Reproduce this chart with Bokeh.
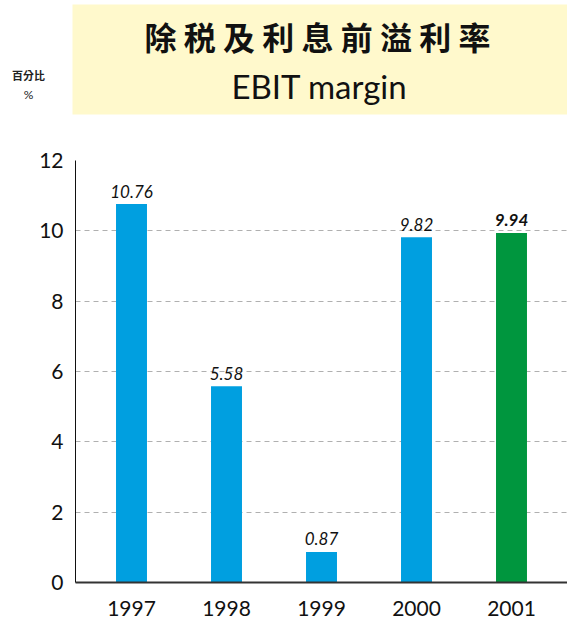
from bokeh.plotting import figure
from bokeh.models import ColumnDataSource, FactorRange, Range1d, FixedTicker
from bokeh.core.properties import value
from bokeh.embed import file_html
from bokeh.resources import INLINE

# ---- data ----
years = ["1997", "1998", "1999", "2000", "2001"]
margins = [10.76, 5.58, 0.87, 9.82, 9.94]
value_labels = ["10.76", "5.58", "0.87", "9.82", "9.94"]
bar_colors = ["#009FE0", "#009FE0", "#009FE0", "#009FE0", "#00963E"]
label_styles = ["italic", "italic", "italic", "italic", "bold italic"]
y_ticks = [0, 2, 4, 6, 8, 10, 12]
title_zh = "除税及利息前溢利率"
title_en = "EBIT margin"
unit_zh = "百分比"
unit_sym = "%"

W = 567
HDR_H = 140
CH_H = 482

# ---- header ----
hdr = figure(width=W, height=HDR_H, x_range=Range1d(0, W), y_range=Range1d(HDR_H, 0),
             output_backend="svg", toolbar_location=None, min_border=0,
             min_border_left=0, min_border_right=0, min_border_top=0, min_border_bottom=0,
             x_axis_location=None, y_axis_location=None)
hdr.grid.visible = False
hdr.outline_line_color = None
hdr.quad(left=[72], right=[W], top=[4], bottom=[114], fill_color="#FFF9CC", line_color=None)
hdr.text(x=[317], y=[35], text=[" ".join(title_zh)], text_align="center", text_baseline="middle",
         text_font=value("Noto Sans CJK TC"), text_font_size="32px", text_font_style="bold",
         text_color="#111111")
hdr.text(x=[319], y=[85], text=[title_en], text_align="center", text_baseline="alphabetic",
         text_font=value("Lato"), text_font_size="33px", text_color="#111111")
hdr.text(x=[28], y=[74], text=[unit_zh], text_align="center", text_baseline="middle",
         text_font=value("Noto Sans CJK TC"), text_font_size="11px", text_font_style="bold",
         text_color="#222222")
hdr.text(x=[28], y=[94], text=[unit_sym], text_align="center", text_baseline="middle",
         text_font=value("Lato"), text_font_size="12px", text_color="#222222")

# ---- chart ----
src = ColumnDataSource(dict(year=years, margin=margins, label=value_labels,
                            color=bar_colors, style=label_styles))

p = figure(width=W, height=CH_H, x_range=FactorRange(*years, range_padding=0.0358),
           y_range=Range1d(0, 12), output_backend="svg", toolbar_location=None,
           min_border_left=75, min_border_right=0, min_border_top=20, min_border_bottom=40)
p.outline_line_color = None
p.vbar(x="year", top="margin", width=0.326, source=src, fill_color="color", line_color=None)
p.text(x="year", y="margin", text="label", source=src, text_align="center",
       text_baseline="alphabetic", y_offset=-13, text_font=value("Lato"),
       text_font_size="17px", text_font_style="style", text_color="#111111")

p.xgrid.visible = False
p.ygrid.ticker = FixedTicker(ticks=y_ticks)
p.ygrid.grid_line_color = "#b0b0b0"
p.ygrid.grid_line_dash = "5 4"
p.ygrid.grid_line_width = 1

p.yaxis.ticker = FixedTicker(ticks=y_ticks)
p.yaxis.major_tick_line_color = None
p.yaxis.major_tick_out = 0
p.yaxis.major_tick_in = 0
p.yaxis.minor_tick_line_color = None
p.yaxis.axis_line_color = "#111111"
p.yaxis.axis_line_width = 1
p.yaxis.major_label_standoff = 12
p.yaxis.major_label_text_font = "Lato"
p.yaxis.major_label_text_font_size = "21px"
p.yaxis.major_label_text_color = "#111111"

p.xaxis.major_tick_line_color = None
p.xaxis.major_tick_out = 0
p.xaxis.major_tick_in = 0
p.xaxis.minor_tick_line_color = None
p.xaxis.axis_line_color = "#333333"
p.xaxis.axis_line_width = 2
p.xaxis.major_label_standoff = 18
p.xaxis.major_label_text_font = "Lato"
p.xaxis.major_label_text_font_size = "21px"
p.xaxis.major_label_text_color = "#111111"

open("out.html", "w").write(file_html([hdr, p], INLINE))
